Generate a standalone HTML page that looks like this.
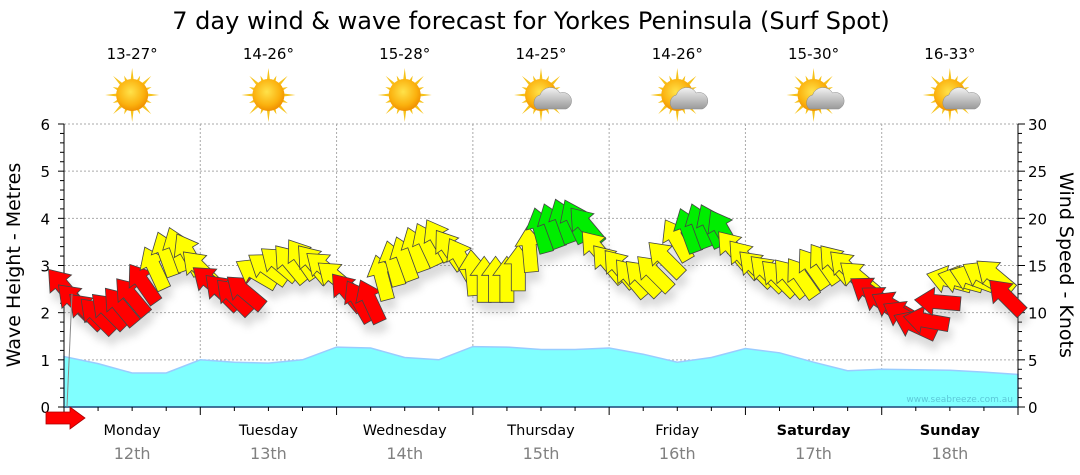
<!DOCTYPE html>
<html><head><meta charset="utf-8">
<style>
body{margin:0;background:#fff;width:1080px;height:475px;overflow:hidden;font-family:"DejaVu Sans","Liberation Sans",sans-serif}
svg{display:block}
</style></head>
<body>
<svg id="chart" width="1080" height="475" viewBox="0 0 1080 475">
<defs>
<filter id="shadow" x="-50%" y="-50%" width="200%" height="200%"><feGaussianBlur stdDeviation="4"/></filter>
<radialGradient id="sunG" cx="45%" cy="40%" r="60%"><stop offset="0" stop-color="#ffe24a"/><stop offset="0.7" stop-color="#fbb10e"/><stop offset="1" stop-color="#f09000"/></radialGradient>
<linearGradient id="cloudG" x1="0" y1="0" x2="0" y2="1"><stop offset="0" stop-color="#f2f2f2"/><stop offset="1" stop-color="#9a9a9a"/></linearGradient>
</defs>
<text x="531" y="29" font-size="24" text-anchor="middle" fill="#000">7 day wind &amp; wave forecast for Yorkes Peninsula (Surf Spot)</text>
<g id="grid"></g>
<g id="waves"></g>
<text x="1013" y="402" font-size="9" text-anchor="end" fill="#5cc8d8">www.seabreeze.com.au</text>
<g id="axes"></g>
<g id="arrows"></g>
<g id="icons"></g>
<text transform="translate(20,265) rotate(-90)" font-size="19" text-anchor="middle">Wave Height - Metres</text>
<text transform="translate(1060,265) rotate(90)" font-size="19" text-anchor="middle">Wind Speed - Knots</text>
</svg>
<script>
const days = ["Monday","Tuesday","Wednesday","Thursday","Friday","Saturday","Sunday"];
const dates = ["12th","13th","14th","15th","16th","17th","18th"];
const temps = ["13-27°","14-26°","15-28°","14-25°","14-26°","15-30°","16-33°"];
const weather = ["sun","sun","sun","cloud","cloud","cloud","cloud"];
const boldDays = [false,false,false,false,false,true,true];
const waveTicks = [0,1,2,3,4,5,6];
const windTicks = [0,5,10,15,20,25,30];
// wave height (m), every 6 hours
const waveHeights = [1.07,0.92,0.72,0.72,1.0,0.95,0.93,1.0,1.27,1.25,1.05,1.0,1.28,1.27,1.22,1.22,1.25,1.12,0.95,1.05,1.24,1.15,0.95,0.77,0.8,0.79,0.78,0.74,0.69];
// wind speed (knots), every 2 hours
const windSpeeds = [
12,10.5,9.5,9,9.5,10,11,12.4,14,15.5,16,15.5,
14,12.5,11.5,11,11.5,13.5,14,14.5,14.5,15,14.5,14,
13,11.5,10.5,10.5,13,14.5,15,16,16.5,17,16,15,
13.5,12.8,12.8,12.8,14,16,18,18.5,19,19,18.5,16,
14.5,14,13,13,13.5,15,17,18,18.5,18.5,18,16,
15,14,13.5,13,13,13,14,14.5,14.5,14,13,11.5,
10.5,10,9,8,8.5,10.5,12.8,12.8,13,13.2,13.2,11];
// arrow pointing direction (deg, 0 = up, negative = left)
const windDirs = [
-40,-45,-45,-45,-45,-40,-40,-35,-25,-20,-20,-30,
-45,-50,-45,-45,-50,-60,-55,-50,-40,-35,-40,-50,
-50,-40,-30,-25,-15,-15,-20,-20,-25,-30,-35,-30,
-5,0,0,0,0,-5,-15,-20,-20,-25,-40,-40,
-40,-40,-40,-45,-45,-45,-30,-20,-20,-25,-30,-40,
-40,-45,-45,-45,-40,-35,-35,-35,-40,-45,-50,-55,
-55,-60,-60,-65,-80,-85,-75,-75,-70,-60,-50,-45];

const NS="http://www.w3.org/2000/svg";
const X0=64,X1=1018,Y0=407,Y1=124;
const dayW=(X1-X0)/7;
const xHour=h=>X0+h/24*dayW;
const yWave=m=>Y0-(m/6)*(Y0-Y1);
const yWind=k=>Y0-(k/30)*(Y0-Y1);
function mk(tag,attrs,parent){const e=document.createElementNS(NS,tag);for(const k in attrs)e.setAttribute(k,attrs[k]);parent.appendChild(e);return e;}
const grid=document.getElementById('grid'),axes=document.getElementById('axes');

waveTicks.forEach(t=>{if(t>0){const l=mk('line',{x1:X0,x2:X1,y1:yWave(t),y2:yWave(t),stroke:'#aaa','stroke-dasharray':'2,2','stroke-width':1},grid);

}});
for(let d=1;d<7;d++){const l=mk('line',{x1:X0+d*dayW,x2:X0+d*dayW,y1:Y1,y2:Y0,stroke:'#aaa','stroke-dasharray':'2,2'},grid);

}

let wp=`M${X0},${Y0}`;
waveHeights.forEach((h,i)=>{wp+=` L${xHour(i*6).toFixed(1)},${yWave(h).toFixed(1)}`;});
wp+=` L${xHour((waveHeights.length-1)*6).toFixed(1)},${Y0} Z`;
const wave=mk('path',{d:wp,fill:'#80ffff',stroke:'#99ccff','stroke-width':1.5},document.getElementById('waves'));



const la=mk('line',{x1:X0,x2:X0,y1:Y1,y2:Y0,stroke:'#000'},axes);


const ra=mk('line',{x1:X1,x2:X1,y1:Y1,y2:Y0,stroke:'#000'},axes);


const xa=mk('line',{x1:X0,x2:X1,y1:Y0,y2:Y0,stroke:'#1f4e79','stroke-width':1.5},axes);


for(let m=0;m<=30;m++){const v=m/5,y=yWave(v);mk('line',{x1:X0-(m%5==0?6:4),x2:X0,y1:y,y2:y,stroke:'#000'},axes);}
waveTicks.forEach(t=>{const tx=mk('text',{x:X0-14,y:yWave(t)+6,'font-size':15,'text-anchor':'end'},axes);tx.textContent=t;

});
for(let k=0;k<=30;k++){const y=yWind(k);mk('line',{x1:X1,x2:X1+(k%5==0?7:4),y1:y,y2:y,stroke:'#000'},axes);}
windTicks.forEach(t=>{const tx=mk('text',{x:X1+10,y:yWind(t)+6,'font-size':15},axes);tx.textContent=t;

});
for(let h=0;h<=168;h+=6){const x=xHour(h);mk('line',{x1:x,x2:x,y1:Y0,y2:Y0+(h%24==0?8:4),stroke:'#000'},axes);}
days.forEach((d,i)=>{const cx=X0+(i+0.5)*dayW;
const t=mk('text',{x:cx,y:435,'font-size':14.5,'text-anchor':'middle','font-weight':boldDays[i]?'bold':'normal'},axes);t.textContent=d;


const t2=mk('text',{x:cx,y:459,'font-size':16,'text-anchor':'middle',fill:'#808080'},axes);t2.textContent=dates[i];


const t3=mk('text',{x:cx,y:59,'font-size':15,'text-anchor':'middle'},axes);t3.textContent=temps[i];

});

const icons=document.getElementById('icons');
weather.forEach((w,i)=>{const cx=X0+(i+0.5)*dayW,cy=95;
const g=mk('g',{},icons);


for(let r=0;r<16;r++){const a=r*Math.PI/8,L=r%2?21:27;
mk('polygon',{points:`${cx+Math.cos(a-0.12)*14},${cy+Math.sin(a-0.12)*14} ${cx+Math.cos(a)*L},${cy+Math.sin(a)*L} ${cx+Math.cos(a+0.12)*14},${cy+Math.sin(a+0.12)*14}`,fill:'#f6c21a'},g);}
mk('circle',{cx:cx,cy:cy,r:16,fill:'url(#sunG)'},g);
if(w==='cloud'){mk('path',{d:`M${cx-4},${cy+14} a8,8 0 0 1 3,-14 a11,11 0 0 1 20,-2 a8,8 0 0 1 6,16 z`,fill:'url(#cloudG)',stroke:'#888','stroke-width':0.5},g);}
});

const arrows=document.getElementById('arrows');
const shp="M0,-24 L14,-5 L7,-5 L7,22 L-7,22 L-7,-5 L-14,-5 Z";
const sh=mk('g',{filter:'url(#shadow)',opacity:0.3},arrows);
windSpeeds.forEach((k,i)=>{const x=xHour(i*2),y=yWind(k)-6;
mk('path',{d:shp,fill:'#888',transform:`translate(${x+3},${y+10}) rotate(${windDirs[i]})`},sh);});
windSpeeds.forEach((k,i)=>{const x=xHour(i*2),y=yWind(k)-6;
const col=k<12.6?'#ff0000':(k>=17.8?'#00ee00':'#ffff00');
const p=mk('path',{d:shp,fill:col,stroke:'#444','stroke-width':0.8,transform:`translate(${x.toFixed(1)},${y.toFixed(1)}) rotate(${windDirs[i]})`},arrows);

});
mk('line',{x1:67,y1:407,x2:72,y2:yWind(windSpeeds[0]),stroke:'#888'},arrows);
const sa=mk('path',{d:"M46,412 L70,412 L70,407 L85,418 L70,429 L70,424 L46,424 Z",fill:'#ff0000',stroke:'#a00','stroke-width':0.8},arrows);


</script>
</body></html>
